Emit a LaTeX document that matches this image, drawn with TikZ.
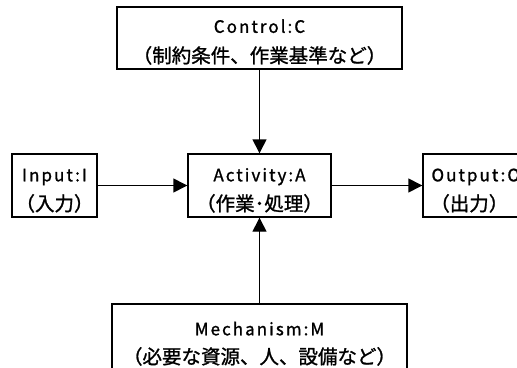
\documentclass[tikz,border=0pt]{standalone}
\usepackage{fontspec}
\usetikzlibrary{arrows.meta}
\newfontfamily\jpfont[AutoFakeBold=1.2]{Noto Sans CJK JP}
\tikzset{
  idefbox/.style={draw=black, line width=1.4pt, rectangle, inner sep=0pt},
  latin/.style={inner sep=0pt, anchor=base,
    font=\jpfont\bfseries\fontsize{17}{20}\selectfont\addfontfeature{LetterSpace=12}},
  kanji/.style={inner sep=0pt, anchor=base,
    font=\jpfont\bfseries\fontsize{19.5}{24}\selectfont},
  flow/.style={line width=1.4pt, -{Triangle[length=14pt,width=14pt]}}
}
\begin{document}
\begin{tikzpicture}[x=1pt,y=-1pt]
  \useasboundingbox (0,0) rectangle (517,367);
  \clip (0,0) rectangle (517,367);
  % boxes
  \node[idefbox, minimum width=285pt, minimum height=62pt] (C) at (259.5,38) {};
  \node[idefbox, minimum width=85pt, minimum height=63pt] (I) at (54.5,185.5) {};
  \node[idefbox, minimum width=143pt, minimum height=63pt] (A) at (259.5,185.5) {};
  \node[idefbox, minimum width=110pt, minimum height=63pt] (O) at (478,185.5) {};
  \node[idefbox, minimum width=295pt, minimum height=72pt] (M) at (259.5,340) {};
  % captions: Latin name on the first line, Japanese gloss on the second
  \node[latin] (C1) at ([yshift=-26.5pt]C.north) {Control:C};
  \node[kanji] (C2) at ([yshift=-56.5pt]C.north) {（制約条件、作業基準など）};
  \node[latin] (I1) at ([yshift=-28pt]I.north) {Input:I};
  \node[kanji] (I2) at ([yshift=-57.5pt]I.north) {（入力）};
  \node[latin] (A1) at ([yshift=-28pt]A.north) {Activity:A};
  \node[kanji] (A2) at ([yshift=-57.5pt]A.north) {（作業･処理）};
  \node[latin, anchor=base west] (O1) at ([xshift=9pt,yshift=-28pt]O.north west) {Output:O};
  \node[kanji] (O2) at ([xshift=47pt,yshift=-57.5pt]O.north west) {（出力）};
  \node[latin] (M1) at ([yshift=-32pt]M.north) {Mechanism:M};
  \node[kanji] (M2) at ([yshift=-60.5pt]M.north) {（必要な資源、人、設備など）};
  % connectors
  \draw[flow] (C) -- (A);
  \draw[flow] (I) -- (A);
  \draw[flow] (A) -- (O);
  \draw[flow] (M) -- (A);
\end{tikzpicture}
\end{document}
